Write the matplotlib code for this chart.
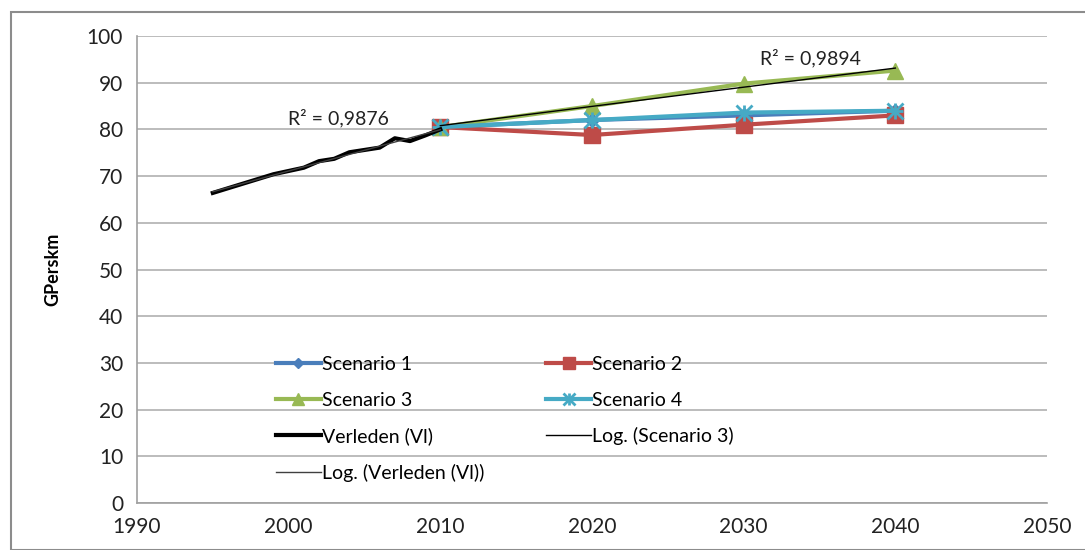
import matplotlib.pyplot as plt
import numpy as np
from matplotlib.patches import Rectangle

plt.rcParams["font.family"] = ["Lato", "DejaVu Sans"]

# Historical data (Verleden, VI)
past_years = [1995, 1996, 1997, 1998, 1999, 2000, 2001, 2002, 2003, 2004,
              2005, 2006, 2007, 2008, 2009, 2010]
past_values = [66.4, 67.4, 68.4, 69.4, 70.4, 71.1, 71.8, 73.2, 73.7, 75.1,
               75.6, 76.1, 78.1, 77.5, 78.7, 80.0]

# Scenario data
scen_years = [2010, 2020, 2030, 2040]
scenario_1 = [80.5, 82.0, 83.0, 84.0]
scenario_2 = [80.5, 78.8, 81.0, 83.0]
scenario_3 = [80.5, 85.0, 89.8, 92.6]
scenario_4 = [80.5, 82.0, 83.6, 84.0]

r2_past = "R² = 0,9876"
r2_scen3 = "R² = 0,9894"

fig = plt.figure(figsize=(10.85, 5.5), dpi=100)
ax = fig.add_axes([137 / 1085, 1 - 503 / 550, (1047 - 137) / 1085, (503 - 36) / 550])

# outer chart border
fig.patches.append(Rectangle((11 / 1085, 0), 1.0, 1 - 12 / 550,
                             transform=fig.transFigure, fill=False,
                             edgecolor="#8c8c8c", linewidth=1.5))

l1, = ax.plot(scen_years, scenario_1, color="#4a7ebb", lw=3, marker="D", ms=7)
l2, = ax.plot(scen_years, scenario_2, color="#be4b48", lw=3, marker="s", ms=12)
l3, = ax.plot(scen_years, scenario_3, color="#98b954", lw=3, marker="^", ms=12)
l4, = ax.plot(scen_years, scenario_4, color="#46aac5", lw=3, marker="x", ms=11,
              mew=2)
l4b, = ax.plot(scen_years, scenario_4, color="#46aac5", lw=0, marker="+", ms=11,
               mew=2)
lv, = ax.plot(past_years, past_values, color="black", lw=3)

# logarithmic trendlines
sx = np.array(scen_years, dtype=float)
a, b = np.polyfit(np.log(sx), scenario_3, 1)
lt3, = ax.plot(sx, a * np.log(sx) + b, color="black", lw=1)
px = np.array(past_years, dtype=float)
a2, b2 = np.polyfit(np.log(px), past_values, 1)
ltv, = ax.plot(px, a2 * np.log(px) + b2, color="#404040", lw=1)

ax.text(2003.3, 82.4, r2_past, ha="center", va="center", fontsize=14, color="#222222")
ax.text(2034.4, 95.3, r2_scen3, ha="center", va="center", fontsize=14, color="#222222")

ax.set_xlim(1990, 2050)
ax.set_ylim(0, 100)
ax.set_xticks(range(1990, 2051, 10))
ax.set_yticks(range(0, 101, 10))
ax.tick_params(length=0, labelsize=15, labelcolor="#222222", pad=10)
ax.yaxis.grid(True, color="#b0b0b0", lw=1.2)
ax.set_axisbelow(True)
for s in ["top", "right"]:
    ax.spines[s].set_visible(False)
for s in ["left", "bottom"]:
    ax.spines[s].set_color("#a0a0a0")
    ax.spines[s].set_linewidth(1.2)
ax.set_ylabel("GPerskm", fontsize=13, fontweight="bold", labelpad=18)

handles = [l1, l3, lv, ltv, l2, (l4, l4b), lt3]
labels = ["Scenario 1", "Scenario 3", "Verleden (Vl)", "Log. (Verleden (Vl))",
          "Scenario 2", "Scenario 4", "Log. (Scenario 3)"]
ax.legend(handles, labels, loc="lower left", bbox_to_anchor=(0.142, 0.025),
          ncol=2, frameon=False, fontsize=14, columnspacing=3.2,
          handlelength=2.3, handletextpad=0.05, labelspacing=0.95,
          borderpad=0, markerscale=0.75)

plt.savefig("out.png", dpi=100)
